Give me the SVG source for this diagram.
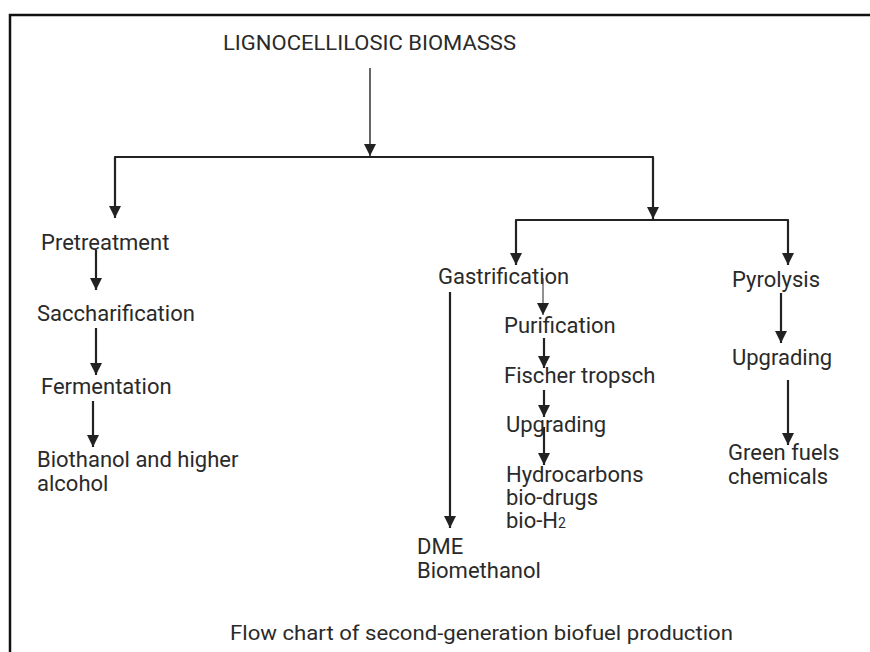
<svg xmlns="http://www.w3.org/2000/svg" width="870" height="652" viewBox="0 0 870 652">
<style>
text{font-family:Roboto,"Liberation Sans",sans-serif;font-size:22px;fill:#2a2a2a}
.t{font-size:20px}
.c{fill:none;stroke:#222;stroke-width:2.2}
.g{fill:none;stroke:#555;stroke-width:1.8}
.th{fill:none;stroke:#555;stroke-width:1.3}
</style>
<defs>
<marker id="ah" viewBox="0 0 10 10" refX="10" refY="5" markerWidth="12" markerHeight="12" markerUnits="userSpaceOnUse" orient="auto-start-reverse">
<path d="M0,0 L10,5 L0,10 z" fill="#222"/>
</marker>
</defs>
<rect width="870" height="652" fill="#fff"/>
<path d="M10,652 V15 H870" fill="none" stroke="#111" stroke-width="2.5"/>
<g id="connectors">
<path class="g" d="M370,68 V156" marker-end="url(#ah)"/>
<path class="c" d="M115,218 V157 H653 V219" marker-start="url(#ah)" marker-end="url(#ah)" stroke-linejoin="round"/>
<path class="c" d="M516,265 V220 H788 V265" marker-start="url(#ah)" marker-end="url(#ah)" stroke-linejoin="round"/>
<path class="c" d="M96,250 V290" marker-end="url(#ah)"/>
<path class="c" d="M96,328 V375" marker-end="url(#ah)"/>
<path class="c" d="M93,401 V447" marker-end="url(#ah)"/>
<path class="c" d="M450,292 V528" marker-end="url(#ah)"/>
<path class="th" d="M543,278 V315" marker-end="url(#ah)"/>
<path class="c" d="M544,338 V368" marker-end="url(#ah)"/>
<path class="c" d="M544,390 V417" marker-end="url(#ah)"/>
<path class="c" d="M544,427 V465" marker-end="url(#ah)"/>
<path class="c" d="M781,293 V343" marker-end="url(#ah)"/>
<path class="c" d="M788,380 V445" marker-end="url(#ah)"/>
</g>
<g id="title"><text x="223" y="50" class="t" textLength="293" lengthAdjust="spacingAndGlyphs">LIGNOCELLILOSIC BIOMASSS</text></g>
<g id="pretreatment"><text x="41" y="250">Pretreatment</text></g>
<g id="saccharification"><text x="37" y="321">Saccharification</text></g>
<g id="fermentation"><text x="41" y="394">Fermentation</text></g>
<g id="biothanol"><text x="37" y="467">Biothanol and higher</text><text x="37" y="491">alcohol</text></g>
<g id="gastrification"><text x="438" y="284">Gastrification</text></g>
<g id="dme"><text x="417" y="554">DME</text><text x="417" y="578">Biomethanol</text></g>
<g id="purification"><text x="504" y="333">Purification</text></g>
<g id="fischer"><text x="504" y="383">Fischer tropsch</text></g>
<g id="upgrading1"><text x="506" y="432">Upgrading</text></g>
<g id="hydrocarbons"><text x="506" y="482">Hydrocarbons</text><text x="506" y="505">bio-drugs</text><text x="506" y="528">bio-H<tspan font-size="14">2</tspan></text></g>
<g id="pyrolysis"><text x="732" y="287">Pyrolysis</text></g>
<g id="upgrading2"><text x="732" y="365">Upgrading</text></g>
<g id="greenfuels"><text x="728" y="460">Green fuels</text><text x="728" y="484">chemicals</text></g>
<g id="caption"><text x="230" y="640" class="t" textLength="503" lengthAdjust="spacingAndGlyphs">Flow chart of second-generation biofuel production</text></g>
</svg>
